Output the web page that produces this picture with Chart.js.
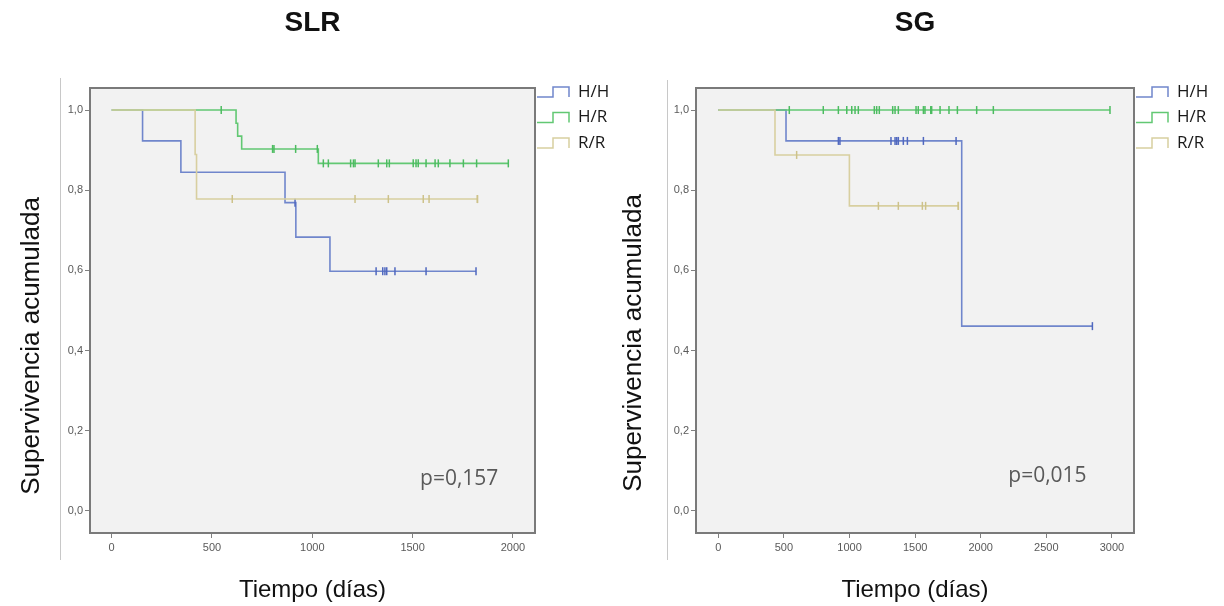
<!DOCTYPE html>
<html>
<head>
<meta charset="utf-8">
<script src="https://cdn.jsdelivr.net/npm/chart.js@4.4.1/dist/chart.umd.min.js"></script>
<style>
body { margin: 0; background: #fff; width: 1224px; height: 606px; position: relative; overflow: hidden; }
canvas { position: absolute; top: 0; }
#chartSLR { left: 0; }
#chartSG { left: 612px; }
.edge { position: absolute; width: 1px; background: #c8c8c8; }
</style>
</head>
<body>
<div class="edge" style="left:60px; top:78px; height:482px;"></div>
<div class="edge" style="left:667px; top:80px; height:480px;"></div>
<canvas id="chartSLR" width="612" height="606"></canvas>
<canvas id="chartSG" width="612" height="606"></canvas>
<script>
// Gruppen + Farben
const groups = ['H/H', 'H/R', 'R/R'];
const lineColors = ['#7086cc', '#62c873', '#d8cfa0'];
const markColors = ['#5068bf', '#4cbc60', '#cdc28a'];

const yTicks = [0, 0.2, 0.4, 0.6, 0.8, 1.0];

// SLR: Ereigniszeiten, Überleben nach Ereignis, zensierte Zeiten (Tage)
const slrXTicks = [0, 500, 1000, 1500, 2000];
const slrHHEvents = [154, 345, 864, 918, 1088];
const slrHHSurv = [0.923, 0.845, 0.769, 0.683, 0.598];
const slrHHCens = [914, 1318, 1351, 1362, 1371, 1412, 1567, 1816];
const slrHREvents = [620, 628, 648, 1030];
const slrHRSurv = [0.967, 0.935, 0.903, 0.867];
const slrHRCens = [546, 802, 809, 917, 1025, 1055, 1080, 1191, 1205, 1213, 1329, 1371, 1384,
                   1503, 1517, 1528, 1567, 1612, 1628, 1686, 1753, 1819, 1977];
const slrRREvents = [416, 423];
const slrRRSurv = [0.889, 0.778];
const slrRRCens = [601, 1213, 1379, 1553, 1582, 1823, 1823];

// SG
const sgXTicks = [0, 500, 1000, 1500, 2000, 2500, 3000];
const sgHHEvents = [516, 1855];
const sgHHSurv = [0.923, 0.461];
const sgHHCens = [915, 927, 1316, 1347, 1360, 1372, 1410, 1441, 1563, 1812, 2851];
const sgHREvents = [];
const sgHRSurv = [];
const sgHRCens = [541, 800, 915, 979, 1017, 1042, 1067, 1189, 1207, 1227, 1329, 1347, 1372,
                  1507, 1524, 1563, 1575, 1619, 1626, 1690, 1758, 1822, 1969, 2096, 2985];
const sgRREvents = [432, 999];
const sgRRSurv = [0.888, 0.761];
const sgRRCens = [597, 1220, 1372, 1555, 1580, 1829, 1829];

Chart.defaults.font.family = "'Liberation Sans', Arial, sans-serif";

// Kaplan-Meier Punkte aus Ereignissen + Zensuren bauen
function kmPoints(evTimes, evSurv, censTimes) {
    const all = evTimes.map((t, i) => ({ t: t, s: evSurv[i] }))
        .concat(censTimes.map(t => ({ t: t, s: null })));
    all.sort((a, b) => a.t - b.t);
    const pts = [{ x: 0, y: 1, c: false }];
    let cur = 1;
    all.forEach(p => {
        if (p.s !== null) cur = p.s;
        pts.push({ x: p.t, y: cur, c: p.s === null });
    });
    return pts;
}

// Hintergrund, Rahmen, y-Titel, p-Wert und Legende
const kmDecor = {
    id: 'kmDecor',
    beforeDraw(chart) {
        const { ctx, chartArea: a } = chart;
        ctx.save();
        ctx.fillStyle = '#f2f2f2';
        ctx.fillRect(a.left, a.top, a.width, a.height);
        ctx.restore();
    },
    afterDraw(chart, args, opts) {
        const { ctx, chartArea: a } = chart;
        ctx.save();
        ctx.strokeStyle = '#7a7a7a';
        ctx.lineWidth = 2;
        ctx.strokeRect(a.left, a.top, a.width, a.height);

        // y-Achsentitel
        ctx.save();
        ctx.translate(opts.yTitleX, opts.yTitleY);
        ctx.rotate(-Math.PI / 2);
        ctx.fillStyle = '#111';
        ctx.font = "26px 'Liberation Sans', Arial, sans-serif";
        ctx.textAlign = 'center';
        ctx.textBaseline = 'alphabetic';
        ctx.fillText('Supervivencia acumulada', 0, 0);
        ctx.restore();

        // p-Wert
        ctx.fillStyle = '#595959';
        ctx.font = "21px 'Open Sans', sans-serif";
        ctx.textAlign = 'left';
        ctx.textBaseline = 'alphabetic';
        ctx.fillText(opts.pText, chart.scales.x.getPixelForValue(opts.pX), chart.scales.y.getPixelForValue(opts.pY));

        // Legende mit Stufen-Symbol
        chart.data.datasets.forEach((ds, i) => {
            const cy = a.top + 4 + i * 25.5;
            const x0 = a.right + 2;
            ctx.strokeStyle = ds.borderColor;
            ctx.lineWidth = 1.5;
            ctx.beginPath();
            ctx.moveTo(x0, cy + 5);
            ctx.lineTo(x0 + 16, cy + 5);
            ctx.lineTo(x0 + 16, cy - 5);
            ctx.lineTo(x0 + 32, cy - 5);
            ctx.lineTo(x0 + 32, cy + 5);
            ctx.stroke();
            ctx.fillStyle = '#1a1a1a';
            ctx.font = "17px 'Open Sans', sans-serif";
            ctx.textBaseline = 'middle';
            ctx.fillText(ds.label, a.right + 43, cy);
        });
        ctx.restore();
    }
};

function createKmChart(canvasId, title, curves, xTicks, xMin, xMax, yWidth, rightPad, decor) {
    const tickGrid = { drawOnChartArea: false, drawTicks: true, tickLength: 5, color: '#808080' };
    const tickFont = { color: '#5a5a5a', font: { size: 11 }, autoSkip: false, maxRotation: 0 };

    return new Chart(document.getElementById(canvasId), {
        type: 'line',
        data: {
            datasets: curves.map((c, i) => ({
                label: groups[i],
                data: kmPoints(c[0], c[1], c[2]),
                borderColor: lineColors[i],
                borderWidth: 1.6,
                stepped: true,
                fill: false,
                pointStyle: 'line',
                pointRotation: 90,
                pointRadius: ctx => (ctx.raw && ctx.raw.c) ? 4 : 0,
                pointBorderColor: markColors[i],
                pointBorderWidth: 1.5,
                order: 2 - i // R/R oben
            }))
        },
        options: {
            responsive: false,
            animation: false,
            events: [],
            layout: { padding: { left: 0, top: 0, right: rightPad, bottom: 0 } },
            plugins: {
                legend: { display: false },
                tooltip: { enabled: false },
                title: {
                    display: true,
                    text: title,
                    fullSize: false,
                    color: '#111',
                    font: { size: 28, weight: 'bold' },
                    padding: { top: 6.2, bottom: 48.2 }
                },
                kmDecor: decor
            },
            scales: {
                x: {
                    type: 'linear',
                    min: xMin,
                    max: xMax,
                    afterBuildTicks: s => { s.ticks = xTicks.map(v => ({ value: v })); },
                    afterFit: s => { s.height = 73; },
                    grid: tickGrid,
                    border: { display: false },
                    ticks: Object.assign({ padding: 3, callback: v => String(v) }, tickFont),
                    title: {
                        display: true,
                        text: 'Tiempo (días)',
                        color: '#111',
                        font: { size: 24 },
                        padding: { top: 0, bottom: 1.6 }
                    }
                },
                y: {
                    type: 'linear',
                    min: -0.055,
                    max: 1.055,
                    afterBuildTicks: s => { s.ticks = yTicks.map(v => ({ value: v })); },
                    afterFit: s => { s.width = yWidth; },
                    grid: tickGrid,
                    border: { display: false },
                    ticks: Object.assign({ padding: 2, callback: v => v.toFixed(1).replace('.', ',') }, tickFont)
                }
            }
        },
        plugins: [kmDecor]
    });
}

createKmChart('chartSLR', 'SLR',
    [[slrHHEvents, slrHHSurv, slrHHCens], [slrHREvents, slrHRSurv, slrHRCens], [slrRREvents, slrRRSurv, slrRRCens]],
    slrXTicks, -108, 2110, 90, 77,
    { yTitleX: 38.6, yTitleY: 346, pText: 'p=0,157', pX: 1537, pY: 0.065 });

createKmChart('chartSG', 'SG',
    [[sgHHEvents, sgHHSurv, sgHHCens], [sgHREvents, sgHRSurv, sgHRCens], [sgRREvents, sgRRSurv, sgRRCens]],
    sgXTicks, -170, 3168, 84, 90,
    { yTitleX: 29, yTitleY: 343, pText: 'p=0,015', pX: 2210, pY: 0.072 });
</script>
</body>
</html>
